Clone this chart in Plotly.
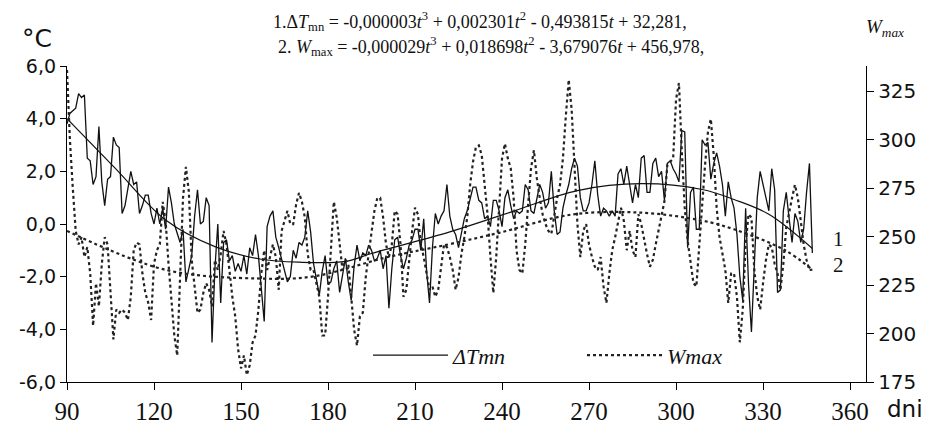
import plotly.graph_objects as go

# ---- data ----
days = list(range(90, 348))

dT_mn = [
    3.8, 4.2, 4.3, 4.4, 4.95, 4.8, 4.9, 2.5, 2.4, 1.5,
    1.8, 3.7, 1.6, 0.7, 1.7, 1.8, 3.3, 3.0, 2.9, 0.4,
    0.7, 1.3, 2.0, 1.5, 1.6, 0.4, 0.7, 1.1, 1.1, 0.4,
    0.0, 0.6, 0.0, 0.6, -0.2, 1.4, 0.8, 0.0, -0.4, -0.7,
    -0.2, -2.2, -1.7, -1.2, 0.3, 1.3, 0.0, 0.1, 1.0, 0.7,
    -4.5, -1.7, 0.0, -3.0, -0.7, -0.6, -1.4, -1.2, -1.8, -1.5,
    -1.8, -1.2, -1.9, -0.9, -1.2, -0.4, -1.2, -2.5, -3.7, -0.1,
    0.3, 0.5, -0.5, -0.9, -1.3, -1.7, -2.2, -2.0, -1.0, -1.3,
    -0.7, -0.8, -0.5, 0.5, -0.3, -1.5, -2.1, -2.7, -1.8, -1.2,
    -2.3, -2.2, -1.7, -1.4, -2.6, -2.0, -1.3, -2.2, -2.9, -1.6,
    -0.8, -1.4, -1.1, -1.2, -0.8, -1.0, -1.4, -1.3, -1.0, -1.7,
    -1.2, -3.2, -1.7, -0.6, -0.5, -1.2, -1.7, -1.3, -0.8, -0.6,
    -0.2, -0.2, -1.0, 0.2, -1.8, -3.0, -0.9, 0.4, 0.0, 0.3,
    0.5, 1.5, 0.3, -0.2, -0.4, -0.9, -0.3, 0.2, 0.5, 1.0,
    1.4, 1.4, 0.9, 0.8, 0.2, 0.3, -0.1, 0.9, 0.9, 0.5,
    -0.1, 1.0, 1.3, 0.7, 0.2, 0.5, 0.4, 0.5, 1.5, 1.3,
    0.5, 0.4, 1.0, 1.5, 1.2, 0.6, 0.8, 2.0, 0.5, -0.4,
    -0.3, 0.6, 1.1, 1.5, 2.1, 2.5, 2.2, 1.0, 0.5, 0.5,
    0.8, 1.5, 2.4, 1.1, 0.3, 0.6, 0.5, 0.3, 0.5, 0.3,
    1.9, 2.1, 1.5, 2.2, 1.5, 0.8, 1.5, 1.0, 2.5, 2.6,
    1.2, 1.2, 2.3, 2.5, 1.8, 2.0, 0.9, 2.3, 2.4, 2.1,
    1.9, 1.6, 3.55, 3.5, -0.9, 1.2, 1.4, -0.2, -0.2, 3.2,
    3.0, 3.1, 1.7, 2.3, 2.7, 2.2, 1.5, 0.3, 1.6, 1.0,
    0.6, -0.4, -2.0, -2.9, 0.6, -2.3, -4.1, -1.2, 1.0, 2.0,
    1.5, 0.9, 0.5, 2.1, 1.3, -2.6, -2.5, 0.5, 1.2, 0.2,
    -0.7, 0.4, 0.1, -0.7, -0.2, 1.2, 2.3, -1.1,
]

W_max = [
    336, 300, 275, 253, 246, 249.7, 239.5, 244.6, 231, 204,
    226, 214, 236, 249.7, 246, 222.6, 197, 212.4, 210.7, 212.4,
    210.7, 207, 219, 243, 247, 246, 231, 221, 216, 207,
    236, 243, 246, 268, 258, 236, 216, 199, 188.7, 226,
    270, 286, 273.4, 238, 222.6, 210.7, 212.4, 221, 226, 222.6,
    214, 238, 232.8, 241, 253, 246, 232.8, 219, 209, 192,
    182, 188.7, 178.6, 183.6, 195.5, 199, 212.4, 231, 243, 232.8,
    239.5, 246, 239.5, 222.6, 253, 258, 263.3, 256.5, 256.5, 266.6,
    272.6, 268, 260, 241, 232.8, 232.8, 226, 219, 199, 199,
    219, 246, 268, 260, 246, 232.8, 238, 236, 219, 202,
    193.8, 209, 210.7, 229, 241, 253, 263.3, 270, 270, 260,
    246, 239.5, 246, 263.3, 261.6, 246, 219, 222.6, 239.5, 253,
    265, 261.6, 246, 239.5, 231, 222.6, 224.3, 219, 222.6, 236,
    246, 244.6, 239.5, 232.8, 222.6, 229, 241, 249.7, 260, 276.8,
    288.7, 296.3, 297.1, 292, 276.8, 261.6, 239.5, 221, 239.5, 266.6,
    290.4, 298, 290.4, 285.3, 270, 243, 232.8, 231, 246, 266.6,
    285.3, 294.6, 280.2, 270, 261.6, 256.5, 253, 251.4, 261.6, 270,
    276.8, 290.4, 312.4, 331, 315.8, 288.7, 256.5, 239.5, 253, 256.5,
    246, 239.5, 234.5, 232.8, 239.5, 224.3, 215.8, 231, 243, 249.7,
    256.5, 265, 258.2, 243, 253, 243, 239.5, 261.6, 256.5, 248,
    241, 234.5, 238, 246, 253, 261.6, 268.3, 287, 288.7, 290.4,
    320.8, 329.3, 293.7, 265, 248, 236, 226, 224.3, 246, 268.3,
    287, 303.9, 310.7, 292, 265, 249.7, 241, 232.8, 215.8, 231,
    231, 219, 195.5, 212.4, 246, 261.6, 259.9, 232.8, 219, 212.4,
    226, 238, 246, 244.6, 236, 231, 222.6, 236, 254.8, 263.3,
    270, 276.8, 270, 258.2, 246, 238, 232.8, 233,
]

# trend lines (polynomial trends)
trend1_days = [90, 106.5, 124, 141, 156.5, 170, 186, 195, 222, 243, 266, 288, 309, 320, 332, 347]
trend1_vals = [4.0, 2.13, 0.15, -0.86, -1.33, -1.45, -1.42, -1.12, -0.3, 0.45, 1.27, 1.53, 1.31, 0.93, 0.37, -0.93]

trend2_days = [90, 124, 156.5, 175, 200.7, 221.4, 239, 264, 288, 309, 320, 337.6, 347]
trend2_vals = [253, 232.9, 228.4, 229.5, 239.5, 246, 252, 261.4, 262.4, 258.3, 253.8, 243, 232.9]

x_ticks = list(range(90, 361, 30))
y_ticks = [-6, -4, -2, 0, 2, 4, 6]
y_ticktext = ["-6,0", "-4,0", "-2,0", "0,0", "2,0", "4,0", "6,0"]
y2_ticks = [175, 200, 225, 250, 275, 300, 325]

# ---- figure ----
L, R, T, B = 67, 64, 66, 50
W, H = 930, 437
PW, PH = W - L - R, H - T - B


def px(xp):
    return (xp - L) / PW


def py(yp):
    return (H - B - yp) / PH


LINE = "#111111"
fig = go.Figure()
fig.add_trace(go.Scatter(x=days, y=dT_mn, mode="lines", name="ΔTmn",
                         line=dict(color=LINE, width=1.3)))
fig.add_trace(go.Scatter(x=days, y=W_max, mode="lines", name="Wmax", yaxis="y2",
                         line=dict(color="#222222", width=2.2, dash="dot")))
fig.add_trace(go.Scatter(x=trend1_days, y=trend1_vals, mode="lines", showlegend=False,
                         line=dict(color=LINE, width=1.2, shape="spline")))
fig.add_trace(go.Scatter(x=trend2_days, y=trend2_vals, mode="lines", showlegend=False,
                         yaxis="y2",
                         line=dict(color="#222222", width=2.2, dash="dot", shape="spline")))

serif = "Liberation Serif"
sans = "DejaVu Sans"

fig.update_layout(
    width=W, height=H, autosize=False,
    margin=dict(l=L, r=R, t=T, b=B, pad=0),
    paper_bgcolor="white", plot_bgcolor="white",
    separators=", ",
    showlegend=True,
    legend=dict(orientation="h", x=px(368), y=py(360), xanchor="left", yanchor="middle",
                font=dict(family=serif, size=22, color="#111", style="italic"),
                bgcolor="rgba(0,0,0,0)", entrywidth=124, entrywidthmode="pixels",
                itemwidth=75, tracegroupgap=0),
    xaxis=dict(range=[90, 365.5], tickvals=x_ticks, ticks="outside", ticklen=7,
               tickcolor="black", showline=True, linecolor="black", linewidth=1.3,
               showgrid=False, zeroline=False,
               tickfont=dict(family=serif, size=25, color="#111")),
    yaxis=dict(range=[-6, 6], tickvals=y_ticks, ticktext=y_ticktext, ticks="outside",
               ticklen=6, tickcolor="black", showline=True, linecolor="black",
               linewidth=1.3, showgrid=False, zeroline=False,
               tickfont=dict(family=sans, size=19, color="#111")),
    yaxis2=dict(range=[175, 338.1], tickvals=y2_ticks, overlaying="y", side="right",
                ticks="outside", ticklen=7, tickcolor="black", showline=True,
                linecolor="black", linewidth=1.3, showgrid=False, zeroline=False,
                tickfont=dict(family=sans, size=20, color="#111")),
)

ann = [
    dict(text="°C", x=px(37), y=py(38), font=dict(family=sans, size=25)),
    dict(text="<i>W</i><sub><i>max</i></sub>", x=px(885), y=py(27),
         font=dict(family=serif, size=19)),
    dict(text="dni", x=px(905), y=py(414), font=dict(family=sans, size=23)),
    dict(text="1", x=px(838), y=py(242), font=dict(family=serif, size=21)),
    dict(text="2", x=px(838), y=py(268), font=dict(family=serif, size=21)),
    dict(text="1.Δ<i>T</i><sub>mn</sub> = -0,000003<i>t</i><sup>3</sup> + 0,002301<i>t</i><sup>2</sup>"
              " - 0,493815<i>t</i> + 32,281,",
         x=px(271), y=py(21), xanchor="left", font=dict(family=serif, size=18)),
    dict(text="2. <i>W</i><sub>max</sub> = -0,000029<i>t</i><sup>3</sup> + 0,018698<i>t</i><sup>2</sup>"
              " - 3,679076<i>t</i> + 456,978,",
         x=px(276), y=py(46), xanchor="left", font=dict(family=serif, size=18)),
]
for a in ann:
    a.setdefault("xanchor", "center")
    a.update(xref="paper", yref="paper", yanchor="middle", showarrow=False)
    a["font"].setdefault("color", "#111")
    fig.add_annotation(**a)

fig.write_html("out.html")
